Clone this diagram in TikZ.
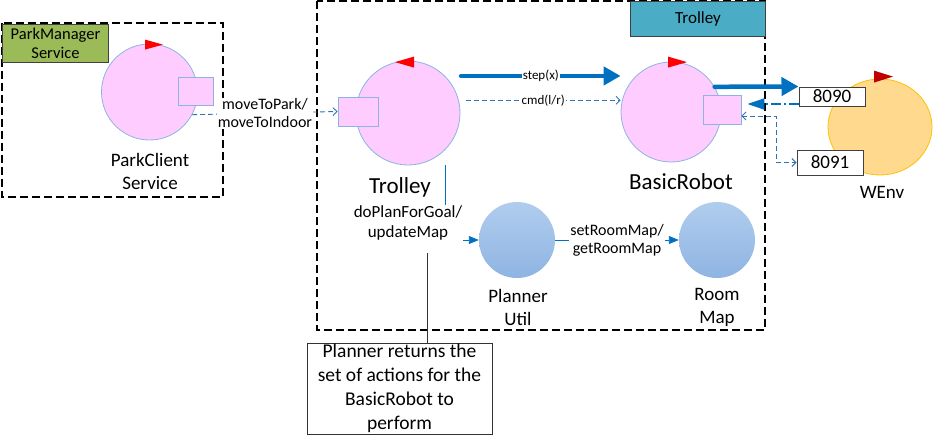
\documentclass[tikz,border=0pt]{standalone}
\usepackage{fontspec}
\setmainfont{Carlito}
\usetikzlibrary{arrows.meta,positioning,shapes.geometric}

\definecolor{actorpink}{HTML}{FFCCFF}
\definecolor{edgeblue}{HTML}{8DB3E2}
\definecolor{linkblue}{HTML}{0070C0}
\definecolor{dashblue}{HTML}{2E75B6}
\definecolor{mgrgreen}{HTML}{9BBB59}
\definecolor{ctxteal}{HTML}{4BACC6}
\definecolor{envfill}{HTML}{FFD98E}
\definecolor{envedge}{HTML}{FFC000}
\definecolor{utiltop}{HTML}{B0CDEE}
\definecolor{utilbot}{HTML}{8FB4E2}
\definecolor{flagdark}{HTML}{C00000}

\tikzset{
  actor/.style={circle,draw=edgeblue,line width=0.8pt,fill=actorpink,inner sep=0pt},
  port/.style={rectangle,draw=edgeblue,line width=0.8pt,fill=actorpink,inner sep=0pt,
    minimum width=36pt,minimum height=28pt},
  util/.style={circle,inner sep=0pt,minimum size=76pt,top color=utiltop,bottom color=utilbot},
  caption/.style={align=center,font=\fontsize{19}{23}\selectfont,inner sep=1pt},
  bigcaption/.style={font=\fontsize{23}{27}\selectfont,inner sep=1pt},
  ctxbox/.style={draw=black,line width=1.2pt,dash pattern=on 8pt off 4pt},
  ctxtab/.style={draw=black!75,line width=1pt,align=center,inner sep=0pt,anchor=north west},
  portbox/.style={draw=black!75,line width=1pt,fill=white,minimum width=66pt,
    minimum height=19pt,inner sep=0pt,font=\fontsize{19}{23}\selectfont},
  msgtext/.style={fill=white,align=center,inner sep=1pt,font=\fontsize{16}{18}\selectfont},
  calltext/.style={fill=white,align=center,inner sep=1pt,font=\fontsize{17}{20}\selectfont},
  smalltext/.style={fill=white,inner sep=1pt,font=\fontsize{13}{15}\selectfont},
  dashlink/.style={draw=dashblue,line width=0.9pt,dash pattern=on 5pt off 3pt,
    -{Straight Barb[length=4pt,width=8pt]}},
  thicklink/.style={draw=linkblue,line width=4.5pt,line cap=round,
    -{Triangle[length=17pt,width=18pt]}},
  backlink/.style={draw=linkblue,line width=1.8pt,dash pattern=on 10pt off 3pt on 2pt off 3pt,
    -{Triangle[length=17pt,width=11pt]}},
  calllink/.style={draw=linkblue,line width=0.9pt,-{Triangle[length=10pt,width=8pt]}},
}

\begin{document}
\begin{tikzpicture}[x=1pt,y=-1pt]
  \useasboundingbox (0,0) rectangle (934,447);

  % containers
  \draw[ctxbox] (2,23) rectangle (223,197);
  \node[ctxtab,fill=mgrgreen,minimum width=106pt,minimum height=38pt,
    font=\fontsize{16.5}{19}\selectfont] (pmtab) at (2,24) {ParkManager\\Service};
  \draw[ctxbox] (317,1) rectangle (765,330);
  \node[ctxtab,fill=ctxteal,minimum width=135pt,minimum height=35pt,
    font=\fontsize{17}{20}\selectfont] (trtab) at (630,1) {Trolley};

  % actors
  \node[actor,minimum size=96pt] (pc) at (149.5,92) {};
  \node[port,minimum width=35pt] (pcport) at (195.5,91) {};
  \node[actor,minimum size=104pt] (trolley) at (408,113) {};
  \node[port,minimum width=40pt,minimum height=29pt] (tport) at (358,111.5) {};
  \node[actor,minimum size=100pt] (br) at (671,112) {};
  \node[port,minimum width=38pt,minimum height=29pt] (brport) at (722,109.5) {};
  \node[ellipse,draw=envedge,line width=0.8pt,fill=envfill,inner sep=0pt,
    minimum width=104pt,minimum height=96pt] (wenv) at (880,127) {};
  \node[util] (pu) at (517,240) {};
  \node[util] (rm) at (717,240) {};
  \node[portbox] (p8090) at (832,96.5) {8090};
  \node[portbox,minimum height=25pt] (p8091) at (830,162.5) {8091};

  % flags
  \fill[red] ([shift={(-4.5,-4)}]pc.north) -- ++(0,10) -- ++(18,-5) -- cycle;
  \fill[red] ([shift={(6,-4)}]trolley.north) -- ++(0,11) -- ++(-19,-5.5) -- cycle;
  \fill[red] ([shift={(-3,-5)}]br.north) -- ++(0,11) -- ++(19,-5.5) -- cycle;
  \fill[flagdark] ([shift={(-6,-8)}]wenv.north) -- ++(0,12) -- ++(19,-6) -- cycle;

  % captions
  \node[caption] (pclbl) at (150,171) {ParkClient\\Service};
  \node[bigcaption] (tlbl) at (400,187) {Trolley};
  \node[bigcaption] (brlbl) at (681,182) {BasicRobot};
  \node[caption] (envlbl) at (882,192) {WEnv};
  \node[caption] (pulbl) at (518,307) {Planner\\Util};
  \node[caption] (rmlbl) at (717,307) {Room\\Map};

  % messages
  \draw[dashlink] (pc.-28) -- (tport.west)
    node[midway,msgtext] {moveToPark/\\moveToIndoor};
  \draw[thicklink] ([xshift=16pt]trolley.north east) -- (trolley.north east -| br.west)
    node[midway,smalltext] {step(x)};
  \draw[dashlink] ([xshift=7pt]trolley.14) -- (trolley.14 -| br.west)
    node[midway,smalltext] {cmd(l/r)};
  \draw[thicklink] (br.30) -- (p8090.north west);
  \draw[backlink,shorten >=6pt] ([yshift=-7.5pt]p8090.west) -- ([yshift=-7.5pt]p8090.west -| brport.east);
  \draw[dashlink,{Straight Barb[length=4pt,width=8pt]}-{Straight Barb[length=4pt,width=8pt]}]
    ([yshift=-6.5pt]brport.east) -- ++(35,0) |- (p8091.west);
  \draw[calllink] ([xshift=37pt]trolley.south) |- (pu.west)
    node[pos=0.5,xshift=-37pt,yshift=17pt,calltext] {doPlanForGoal/\\updateMap};
  \draw[calllink] (pu) -- (rm) node[midway,msgtext] {setRoomMap/\\getRoomMap};

  % note
  \node[draw=black!80,line width=1pt,align=center,minimum width=185pt,minimum height=91pt,
    inner sep=0pt,font=\fontsize{19.5}{24}\selectfont] (note) at (399.5,388.5)
    {Planner returns the\\set of actions for the\\BasicRobot to\\perform};
  \coordinate (callpt) at (427,253);
  \draw[black!80,line width=1pt] (callpt) -- (callpt |- note.north);
\end{tikzpicture}
\end{document}
